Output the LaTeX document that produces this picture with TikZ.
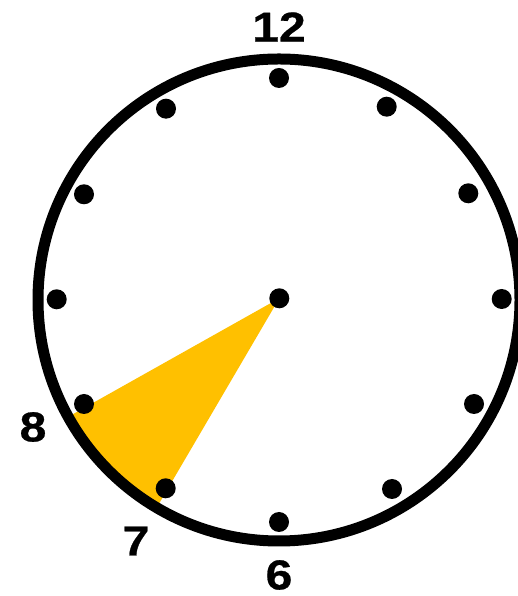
\documentclass[tikz,border=0pt]{standalone}
\usepackage{fontspec}
\setmainfont{Liberation Sans}
\newfontfamily\clockfont{Liberation Sans}[FakeStretch=1.15,FakeBold=0.6]
\usepackage{xcolor}
\usetikzlibrary{positioning,calc}
\definecolor{sectorgold}{HTML}{FFC000}

\begin{document}
\begin{tikzpicture}[
  x=1bp,y=1bp,
  rim/.style={line width=11bp},
  dot/.style={circle,fill=black,inner sep=0pt,minimum size=20bp},
  hourlabel/.style={font=\clockfont\fontsize{42}{42}\selectfont\bfseries,inner sep=0pt},
  sector/.style={fill=sectorgold}
]
\useasboundingbox (0,0) rectangle (518,596);
\coordinate (c) at (279,296);
\coordinate (hubpos) at (279.3,297.7);
% Highlighted sector between 8 and 7
\fill[sector] (hubpos) -- ($(c)+(209:241)$) arc[start angle=209,end angle=239.5,radius=241] -- cycle;
% Clock face
\draw[rim] (c) circle[radius=241];
\node[dot] (hub) at (hubpos) {};
\foreach \h/\px/\py in {12/279/518, 1/386.7/489.3, 2/468.3/402.7, 3/501.7/297,
                        4/474/192, 5/392/107, 6/279/74, 7/165.7/107.7,
                        8/84/192, 9/56.7/296.7, 10/84/401.7, 11/166/487.3}
  \node[dot] (h\h) at (\px,\py) {};
% Hour labels
\node[hourlabel] (l12) at (279,569) {12};
\node[hourlabel] (l8) at (33,169) {8};
\node[hourlabel] (l7) at (136,55) {7};
\node[hourlabel] (l6) at (279,21) {6};
\end{tikzpicture}
\end{document}
